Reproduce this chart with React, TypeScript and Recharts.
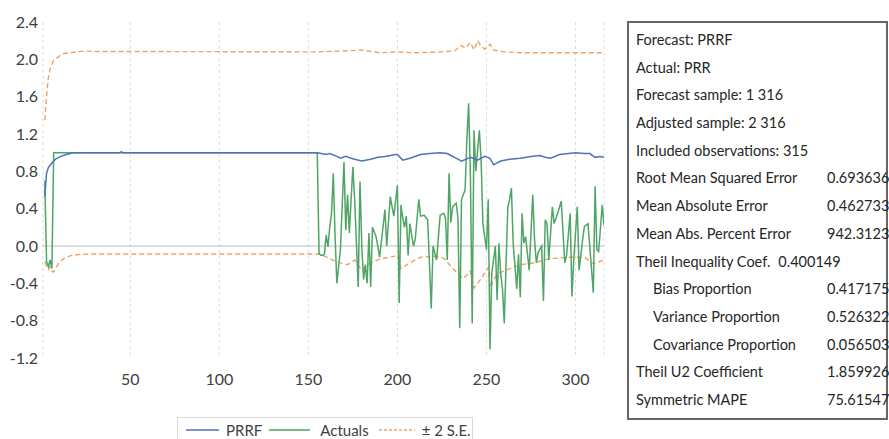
import React from 'react';
import { ComposedChart, Line, XAxis, YAxis, CartesianGrid, ReferenceLine } from 'recharts';

// observation numbers on the x axis, values on the y axis
const xTicks = [50, 100, 150, 200, 250, 300];
const yTicks = [-1.2, -0.8, -0.4, 0, 0.4, 0.8, 1.2, 1.6, 2.0, 2.4];

// PRRF forecast (obs, value)
const forecastPts: [number, number][] = [
  [2, 0.53], [3, 0.78], [4, 0.84], [6, 0.89], [8, 0.93], [11, 0.96], [14, 0.98], [18, 1.0],
  [44, 1.0], [45, 1.01], [46, 1.0], [155, 1.0], [160, 0.98], [162, 0.99], [166, 0.96], [168, 0.94],
  [171, 0.96], [174, 0.94], [176, 0.93], [180, 0.91], [185, 0.93], [189, 0.95], [193, 0.96],
  [199, 0.98], [200, 0.98], [203, 0.92], [207, 0.94], [213, 0.98], [218, 0.99], [224, 1.0],
  [228, 0.99], [230, 0.97], [234, 0.93], [236, 0.91], [241, 0.95], [245, 0.92], [249, 0.96],
  [252, 0.94], [254, 0.87], [258, 0.91], [263, 0.93], [269, 0.94], [275, 0.96], [280, 0.97],
  [283, 0.95], [286, 0.94], [291, 0.98], [300, 1.0], [305, 0.99], [308, 0.99], [311, 0.95],
  [314, 0.96], [316, 0.95],
];

// PRR actuals (obs, value)
const actualPts: [number, number][] = [
  [2, 0.7], [3, -0.17], [4, -0.22], [5, -0.15], [6, -0.24], [7, 1.0], [155, 1.0],
  [156, -0.08], [157, -0.1], [158, -0.1], [159, -0.09], [160, 0.12], [161, -0.01], [162, 0.2],
  [163, 0.35], [164, 0.78], [165, 0.1], [166, -0.4], [168, -0.04], [170, 0.9], [171, 0.17],
  [172, 0.55], [173, 0.14], [175, 0.85], [176, 0.49], [178, -0.44], [179, 0.69], [180, 0.0],
  [181, -0.36], [182, -0.2], [183, -0.4], [184, 0.14], [185, -0.44], [186, 0.2], [188, 0.1],
  [189, 0.0], [190, -0.12], [193, 0.39], [194, 0.0], [196, 0.53], [197, 0.42], [198, 0.32],
  [200, 0.65], [201, -0.61], [202, 0.44], [203, 0.3], [204, 0.2], [205, 0.32], [206, -0.1],
  [207, 0.24], [209, 0.0], [210, 0.07], [212, 0.5], [213, 0.32], [215, 0.33], [217, 0.28],
  [219, -0.67], [220, 0.0], [222, -0.15], [224, 0.33], [226, 0.35], [227, 0.3], [228, -0.15],
  [229, 0.78], [230, 0.25], [231, 0.42], [233, 0.46], [234, 0.3], [235, -0.88], [236, 0.5],
  [238, 0.6], [239, 1.14], [240, 1.53], [241, 0.74], [242, -0.83], [243, 1.24], [244, 0.8],
  [246, 1.24], [247, 0.92], [248, 0.24], [250, -0.04], [251, 0.5], [252, -1.11], [253, -0.29],
  [255, 0.0], [256, -0.58], [257, 0.03], [258, -0.3], [259, -0.46], [260, -0.83], [261, -0.2],
  [262, 0.42], [263, 0.5], [264, 0.62], [265, 0.03], [267, -0.46], [268, -0.09], [269, -0.55],
  [270, 0.35], [271, 0.03], [272, 0.1], [274, -0.26], [276, 0.55], [277, 0.07], [278, -0.18],
  [279, -0.07], [281, 0.0], [282, -0.59], [283, 0.28], [284, 0.24], [285, -0.15], [287, 0.42],
  [288, 0.24], [290, 0.35], [292, 0.48], [293, 0.14], [294, -0.18], [295, -0.1], [297, 0.35],
  [298, -0.54], [299, -0.15], [301, 0.42], [302, -0.26], [304, 0.07], [305, 0.21], [307, 0.24],
  [308, 0.0], [310, -0.5], [311, 0.64], [312, -0.04], [313, -0.06], [315, 0.44], [316, 0.22],
];

// +2 S.E. band
const upperPts: [number, number][] = [
  [2, 1.35], [3, 1.6], [4, 1.8], [5, 1.9], [7, 1.99], [12, 2.06], [22, 2.085], [155, 2.08],
  [170, 2.09], [180, 2.1], [190, 2.07], [200, 2.08], [210, 2.07], [225, 2.08], [232, 2.09],
  [236, 2.15], [238, 2.12], [241, 2.18], [243, 2.1], [245, 2.2], [247, 2.14], [249, 2.11],
  [252, 2.16], [254, 2.1], [260, 2.08], [270, 2.07], [316, 2.07],
];

// -2 S.E. band
const lowerPts: [number, number][] = [
  [2, -0.17], [3, -0.22], [4, -0.25], [5, -0.22], [6, -0.27], [7, -0.28], [8, -0.24], [10, -0.18],
  [13, -0.13], [17, -0.1], [22, -0.09], [30, -0.085], [155, -0.085], [158, -0.1], [166, -0.17],
  [172, -0.2], [176, -0.15], [180, -0.26], [183, -0.2], [190, -0.14], [196, -0.12], [200, -0.1],
  [202, -0.24], [207, -0.18], [213, -0.12], [220, -0.11], [226, -0.13], [231, -0.24], [237, -0.35],
  [241, -0.27], [243, -0.45], [247, -0.35], [251, -0.23], [252, -0.44], [256, -0.3], [262, -0.25],
  [269, -0.2], [277, -0.18], [284, -0.14], [296, -0.12], [305, -0.12], [310, -0.19], [316, -0.15],
];

const statRows: { label: string; value: string; indent?: boolean; inline?: boolean }[] = [
  { label: 'Forecast: PRRF', value: '' },
  { label: 'Actual: PRR', value: '' },
  { label: 'Forecast sample: 1 316', value: '' },
  { label: 'Adjusted sample: 2 316', value: '' },
  { label: 'Included observations: 315', value: '' },
  { label: 'Root Mean Squared Error', value: '0.693636' },
  { label: 'Mean Absolute Error', value: '0.462733' },
  { label: 'Mean Abs. Percent Error', value: '942.3123' },
  { label: 'Theil Inequality Coef.', value: '0.400149', inline: true },
  { label: 'Bias Proportion', value: '0.417175', indent: true },
  { label: 'Variance Proportion', value: '0.526322', indent: true },
  { label: 'Covariance Proportion', value: '0.056503', indent: true },
  { label: 'Theil U2 Coefficient', value: '1.859926' },
  { label: 'Symmetric MAPE', value: '75.61547' },
];

const BLUE = '#4f72b8';
const GREEN = '#4fa565';
const ORANGE = '#f0a264';
const FONT = 'Lato, "Open Sans", sans-serif';

const toRows = (pts: [number, number][]) => pts.map(([obs, value]) => ({ obs, value }));

const LegendSwatch = ({ color, dashed, width }: { color: string; dashed?: boolean; width: number }) => (
  <svg width={width} height={4} style={{ display: 'block' }}>
    <line x1={0} y1={2} x2={width} y2={2} stroke={color} strokeWidth={1.5} strokeDasharray={dashed ? '3 2' : undefined} />
  </svg>
);

const App: React.FC = () => {
  const tickStyle = { fontFamily: FONT, fontSize: 16, fill: '#404040' };

  return (
    <div style={{ position: 'absolute', left: 0, top: 0, width: 889, height: 439, overflow: 'hidden', background: '#fff', fontFamily: FONT }}>
      <ComposedChart width={620} height={439} margin={{ top: 22, right: 16, bottom: 51, left: 0 }}>
        <CartesianGrid horizontal={false} strokeDasharray="3 3" stroke="#dcdcdc" />
        <XAxis
          dataKey="obs"
          type="number"
          domain={[1, 316]}
          ticks={xTicks}
          allowDataOverflow
          axisLine={false}
          tickLine={false}
          tickMargin={10}
          height={30}
          tick={tickStyle}
        />
        <YAxis
          type="number"
          domain={[-1.2, 2.4]}
          ticks={yTicks}
          allowDataOverflow
          axisLine={false}
          tickLine={false}
          tickSize={0}
          tickMargin={5}
          width={43}
          tick={tickStyle}
          tickFormatter={(v: number) => v.toFixed(1)}
        />
        <ReferenceLine y={0} stroke="#bdbdbd" strokeWidth={1.2} />
        <Line data={toRows(upperPts)} dataKey="value" type="linear" stroke={ORANGE} strokeWidth={1.4} strokeDasharray="5 3" dot={false} isAnimationActive={false} />
        <Line data={toRows(lowerPts)} dataKey="value" type="linear" stroke={ORANGE} strokeWidth={1.4} strokeDasharray="5 3" dot={false} isAnimationActive={false} />
        <Line data={toRows(actualPts)} dataKey="value" type="linear" stroke={GREEN} strokeWidth={1.5} dot={false} isAnimationActive={false} />
        <Line data={toRows(forecastPts)} dataKey="value" type="linear" stroke={BLUE} strokeWidth={1.5} dot={false} isAnimationActive={false} />
      </ComposedChart>

      {/* legend */}
      <div style={{ position: 'absolute', left: 177, top: 417, width: 296, height: 30, border: '1px solid #d9d9d9', boxSizing: 'border-box', display: 'flex', alignItems: 'center', paddingLeft: 8, paddingBottom: 4, fontSize: 15, color: '#404040', lineHeight: '16px' }}>
        <LegendSwatch color={BLUE} width={33} />
        <span style={{ marginLeft: 7 }}>PRRF</span>
        <span style={{ marginLeft: 7 }}><LegendSwatch color={GREEN} width={41} /></span>
        <span style={{ marginLeft: 10 }}>Actuals</span>
        <span style={{ marginLeft: 10 }}><LegendSwatch color={ORANGE} width={36} dashed /></span>
        <span style={{ marginLeft: 7 }}>± 2 S.E.</span>
      </div>

      {/* forecast evaluation table */}
      <div style={{ position: 'absolute', left: 627, top: 21, width: 261, height: 399, border: '2px solid #666', boxSizing: 'border-box', paddingTop: 3, fontSize: 14.5, color: '#262626', lineHeight: '27.7px' }}>
        {statRows.map((r) => (
          <div key={r.label} style={{ position: 'relative', height: 27.7, whiteSpace: 'nowrap' }}>
            <span style={{ position: 'absolute', left: r.indent ? 24 : 7 }}>
              {r.label}
              {r.inline ? <span style={{ marginLeft: 8 }}>{r.value}</span> : null}
            </span>
            {!r.inline && r.value ? <span style={{ position: 'absolute', left: 198 }}>{r.value}</span> : null}
          </div>
        ))}
      </div>
    </div>
  );
};

export default App;
